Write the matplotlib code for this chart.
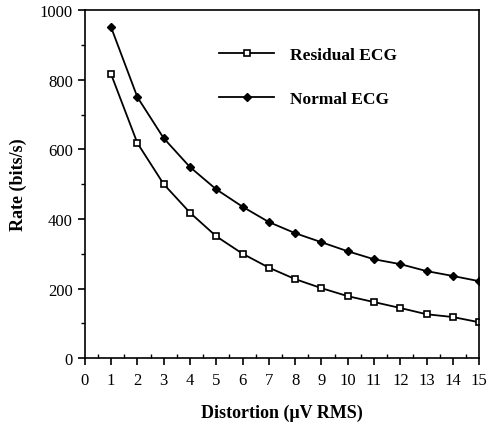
import matplotlib.pyplot as plt
from matplotlib.ticker import MultipleLocator

plt.rcParams['font.family'] = ['Liberation Serif', 'DejaVu Serif']

distortion = [1, 2, 3, 4, 5, 6, 7, 8, 9, 10, 11, 12, 13, 14, 15]
residual = [816, 618, 500, 418, 350, 300, 260, 227, 201, 178, 161, 144, 126, 118, 103]
normal = [951, 750, 632, 549, 485, 435, 391, 359, 333, 307, 284, 270, 250, 236, 221]

fig = plt.figure(figsize=(4.9, 4.27), dpi=100)
ax = fig.add_axes([0.173, 0.159, 0.805, 0.815])

ax.plot(distortion, residual, color='black', lw=1.3, marker='s', ms=5,
        mfc='white', mec='black', mew=1.2, label='Residual ECG')
ax.plot(distortion, normal, color='black', lw=1.3, marker='D', ms=4,
        mfc='black', mec='black', label='Normal ECG')

ax.set_xlim(0, 15)
ax.set_ylim(0, 1000)
ax.xaxis.set_major_locator(MultipleLocator(1))
ax.xaxis.set_minor_locator(MultipleLocator(0.5))
ax.yaxis.set_major_locator(MultipleLocator(200))
ax.yaxis.set_minor_locator(MultipleLocator(100))
ax.tick_params(axis='x', which='major', direction='out', length=5, width=1.2, labelsize=12, pad=5)
ax.tick_params(axis='x', which='minor', direction='in', length=3, width=1)
ax.tick_params(axis='y', which='major', direction='out', length=5, width=1.2, labelsize=12)
ax.tick_params(axis='y', which='minor', direction='out', length=3, width=1)
for s in ax.spines.values():
    s.set_linewidth(1.2)

ax.set_xlabel('Distortion (\u03bcV RMS)', fontsize=13, fontweight='bold', labelpad=11)
ax.set_ylabel('Rate (bits/s)', fontsize=13, fontweight='bold', labelpad=9)

ax.legend(loc='upper left', bbox_to_anchor=(0.30, 0.94), frameon=False,
          handlelength=3.2, handletextpad=0.9, labelspacing=1.6,
          prop={'weight': 'bold', 'size': 12.5})

fig.savefig('out.png', dpi=100)
